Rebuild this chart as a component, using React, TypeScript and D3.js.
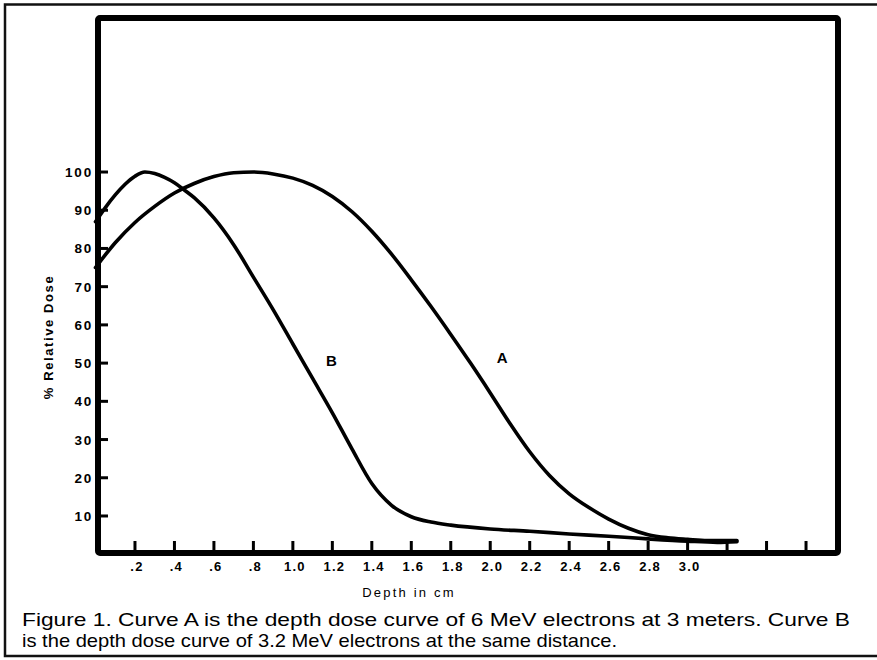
import React from "react";
import * as d3 from "d3";

const depthA = [0, 0.1, 0.2, 0.3, 0.4, 0.5, 0.6, 0.7, 0.8, 0.9, 1.0, 1.1, 1.2, 1.3, 1.4, 1.5, 1.6, 1.7, 1.8, 1.9, 2.0, 2.1, 2.2, 2.3, 2.4, 2.5, 2.6, 2.7, 2.8, 2.9, 3.0, 3.1, 3.25];
const doseA = [75, 81.5, 86.8, 91, 94.5, 97, 98.8, 99.8, 100, 99.5, 98.4, 96.5, 93.6, 89.6, 84.5, 78.5, 71.8, 64.8, 57.5, 50, 42.2, 34.2, 26.8, 20.6, 15.8, 12.2, 9.2, 6.8, 5.1, 4.3, 3.9, 3.6, 3.6];

const depthB = [0, 0.05, 0.1, 0.15, 0.2, 0.25, 0.3, 0.35, 0.4, 0.45, 0.5, 0.6, 0.7, 0.8, 0.9, 1.0, 1.1, 1.2, 1.3, 1.4, 1.5, 1.6, 1.7, 1.8, 2.0, 2.2, 2.4, 2.6, 2.8, 3.0, 3.15, 3.25];
const doseB = [87, 90.7, 94, 96.8, 98.9, 100, 99.6, 98.6, 97.2, 95.3, 93.3, 88, 81, 72.5, 64, 55, 46, 37, 27.5, 18.5, 12.8, 9.8, 8.4, 7.6, 6.6, 6, 5.3, 4.7, 4, 3.4, 3.1, 3.3];

const xTickValues = [0.2, 0.4, 0.6, 0.8, 1.0, 1.2, 1.4, 1.6, 1.8, 2.0, 2.2, 2.4, 2.6, 2.8, 3.0, 3.2, 3.4, 3.6];
const xTickLabels = [".2", ".4", ".6", ".8", "1.0", "1.2", "1.4", "1.6", "1.8", "2.0", "2.2", "2.4", "2.6", "2.8", "3.0", "", "", ""];
const yTickValues = [10, 20, 30, 40, 50, 60, 70, 80, 90, 100];
const yTickLabels = ["10", "20", "30", "40", "50", "60", "70", "80", "90", "100"];

const curveLabels = [
  { text: "A", depth: 2.06, dose: 50 },
  { text: "B", depth: 1.195, dose: 49.3 },
];

const captionLines = [
  "Figure 1. Curve A is the depth dose curve of 6 MeV electrons at 3 meters. Curve B",
  "is the depth dose curve of 3.2 MeV electrons at the same distance.",
];

export default function App() {
  const W = 877;
  const H = 660;
  const x = d3.scaleLinear().domain([0, 3.762]).range([95.5, 838]);
  const y = d3.scaleLinear().domain([0, 140.3]).range([554.2, 18]);

  const line = d3
    .line<[number, number]>()
    .x((d) => x(d[0]))
    .y((d) => y(d[1]))
    .curve(d3.curveMonotoneX);

  const ptsA: [number, number][] = depthA.map((d, i) => [d, doseA[i]]);
  const ptsB: [number, number][] = depthB.map((d, i) => [d, doseB[i]]);

  const boxL = 98;
  const boxR = 838;
  const boxT = 18;
  const boxB = 553;

  const font = "'Liberation Sans', Arial, Helvetica, sans-serif";
  const capFont = "'Liberation Sans Narrow', 'Arial Narrow', 'Liberation Sans', Arial, sans-serif";

  return (
    <svg
      width={W}
      height={H}
      viewBox={`0 0 ${W} ${H}`}
      style={{ position: "absolute", left: 0, top: 0, background: "#fff" }}
    >
      <rect x={0} y={0} width={W} height={H} fill="#fff" />
      {/* outer frame */}
      <path d={`M ${W + 5} 4.5 L 5 4.5 L 5 656 L ${W + 5} 656`} fill="none" stroke="#111" strokeWidth={2.5} />

      {/* curves */}
      <path d={line(ptsA) || ""} fill="none" stroke="#000" strokeWidth={3.6} strokeLinejoin="round" strokeLinecap="round" />
      <path d={line(ptsB) || ""} fill="none" stroke="#000" strokeWidth={3.6} strokeLinejoin="round" strokeLinecap="round" />

      {/* chart box */}
      <rect x={boxL} y={boxT} width={boxR - boxL} height={boxB - boxT} fill="none" stroke="#000" strokeWidth={6} rx={2} />

      {/* y ticks */}
      {yTickValues.map((v, i) => (
        <g key={"yt" + i}>
          <line x1={boxL} x2={boxL + 10} y1={y(v)} y2={y(v)} stroke="#000" strokeWidth={3} />
          <text
            x={93}
            y={y(v) + 5}
            textAnchor="end"
            fontFamily={font}
            fontWeight="bold"
            fontSize={13.5}
            letterSpacing={1.8}
            fill="#000"
          >
            {yTickLabels[i]}
          </text>
        </g>
      ))}

      {/* x ticks */}
      {xTickValues.map((v, i) => (
        <g key={"xt" + i}>
          <line x1={x(v)} x2={x(v)} y1={boxB} y2={boxB - 12} stroke="#000" strokeWidth={3} />
          {xTickLabels[i] && (
            <text
              x={x(v) + 2}
              y={571}
              textAnchor="middle"
              fontFamily={font}
              fontWeight={600}
              fontSize={13}
              letterSpacing={1.2}
              fill="#000"
            >
              {xTickLabels[i]}
            </text>
          )}
        </g>
      ))}

      {/* axis titles */}
      <text
        x={409}
        y={597}
        textAnchor="middle"
        fontFamily={font}
        fontSize={13}
        letterSpacing={2.2}
        fill="#000"
      >
        Depth in cm
      </text>
      <text
        transform="translate(53,337) rotate(-90)"
        textAnchor="middle"
        fontFamily={font}
        fontWeight={600}
        fontSize={13}
        letterSpacing={1.6}
        fill="#000"
      >
        % Relative Dose
      </text>

      {/* curve labels */}
      {curveLabels.map((c) => (
        <text
          key={c.text}
          x={x(c.depth)}
          y={y(c.dose)}
          textAnchor="middle"
          fontFamily={font}
          fontWeight="bold"
          fontSize={15}
          fill="#000"
        >
          {c.text}
        </text>
      ))}

      {/* caption */}
      <text x={22} y={626} fontFamily={capFont} fontSize={18.5} textLength={828} lengthAdjust="spacingAndGlyphs" fill="#000">
        {captionLines[0]}
      </text>
      <text x={22} y={647} fontFamily={capFont} fontSize={18.5} textLength={595} lengthAdjust="spacingAndGlyphs" fill="#000">
        {captionLines[1]}
      </text>
    </svg>
  );
}
